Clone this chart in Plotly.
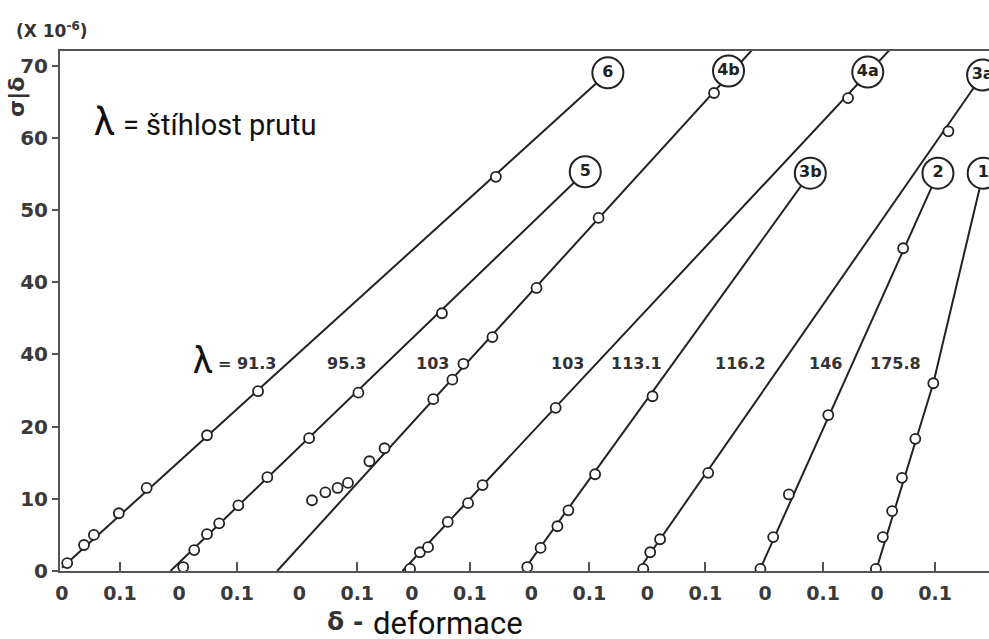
import plotly.graph_objects as go

# ---- data ----
curve_ids = ["6", "5", "4b", "4a", "3b", "3a", "2", "1"]
slenderness = ["91.3", "95.3", "103", "103", "113.1", "116.2", "146", "175.8"]
# each specimen is plotted on its own shifted deformation origin
origin_shift = [0.0, 0.202, 0.409, 0.603, 0.809, 1.009, 1.212, 1.405]

pts_delta = [
    [0.009, 0.038, 0.055, 0.098, 0.146, 0.250, 0.338, 0.748],
    [0.007, 0.026, 0.048, 0.069, 0.102, 0.152, 0.224, 0.309, 0.453],
    [0.022, 0.045, 0.066, 0.084, 0.121, 0.147, 0.231, 0.264, 0.283, 0.333, 0.409, 0.516, 0.715],
    [-0.003, 0.014, 0.028, 0.062, 0.097, 0.122, 0.248, 0.752],
    [-0.007, 0.016, 0.045, 0.064, 0.110, 0.209],
    [-0.007, 0.005, 0.022, 0.105, 0.519],
    [-0.008, 0.014, 0.041, 0.109, 0.238],
    [-0.002, 0.010, 0.026, 0.043, 0.066, 0.097],
]
pts_ratio = [
    [1.1, 3.6, 5.0, 8.0, 11.5, 18.8, 24.9, 54.6],
    [0.55, 2.9, 5.1, 6.6, 9.1, 13.0, 18.4, 24.7, 35.7],
    [9.8, 10.9, 11.5, 12.2, 15.2, 17.0, 23.8, 26.5, 28.7, 32.4, 39.2, 48.9, 66.2],
    [0.3, 2.6, 3.3, 6.8, 9.4, 11.9, 22.6, 65.5],
    [0.55, 3.2, 6.2, 8.4, 13.4, 24.2],
    [0.3, 2.6, 4.4, 13.6, 60.9],
    [0.3, 4.7, 10.6, 21.6, 44.7],
    [0.3, 4.7, 8.3, 12.9, 18.3, 26.0],
]
# fitted (Southwell) lines
line_delta = [
    [0.0, 0.941],
    [-0.015, 0.700],
    [-0.038, 0.781],
    [-0.016, 0.824],
    [-0.014, 0.481],
    [-0.016, 0.578],
    [-0.010, 0.298],
    [-0.002, 0.097, 0.183],
]
line_ratio = [
    [0.45, 69.0],
    [0.0, 55.3],
    [0.0, 72.2],
    [0.0, 72.2],
    [0.0, 55.1],
    [0.0, 68.7],
    [0.0, 55.1],
    [0.0, 26.0, 55.1],
]
# circled specimen tags
tag_delta = [0.941, 0.700, 0.740, 0.786, 0.481, 0.578, 0.298, 0.183]
tag_ratio = [69.0, 55.3, 69.25, 69.1, 55.1, 68.7, 55.1, 55.1]

y_ticks = [0, 10, 20, 30, 40, 50, 60, 70]
y_ticktext = ["0", "10", "20", "40", "40", "50", "60", "70"]

# slenderness label anchors (global x, ratio)
lam_label_x = [0.319, 0.491, 0.638, 0.871, 0.991, 1.169, 1.316, 1.436]
lam_label_y = 28.8

# ---- figure ----
INK = "#222222"
AX = "#555555"
OLD_FONT = "DejaVu Sans"

fig = go.Figure()

for i in range(len(curve_ids)):
    off = origin_shift[i]
    fig.add_trace(go.Scatter(
        x=[off + d for d in line_delta[i]], y=line_ratio[i],
        mode="lines", line=dict(color=INK, width=2), hoverinfo="skip"))
    fig.add_trace(go.Scatter(
        x=[off + d for d in pts_delta[i]], y=pts_ratio[i],
        mode="markers",
        marker=dict(symbol="circle", size=10, color="white",
                    line=dict(color=INK, width=1.8)),
        hoverinfo="skip"))

fig.add_trace(go.Scatter(
    x=[origin_shift[i] + tag_delta[i] for i in range(len(curve_ids))],
    y=tag_ratio, mode="markers+text", text=curve_ids,
    textposition="middle center",
    textfont=dict(family=OLD_FONT, size=16, color=INK, weight="bold"),
    marker=dict(symbol="circle", size=31, color="white",
                line=dict(color=INK, width=2)),
    hoverinfo="skip", cliponaxis=True))

# helper trace for the tick-mark axis
tick_pos = [o + 0.1 for o in origin_shift]
fig.add_trace(go.Scatter(x=[tick_pos[0]], y=[0], xaxis="x2", mode="markers",
                         marker=dict(opacity=0), hoverinfo="skip"))

label_vals, label_text = [], []
for o in origin_shift:
    label_vals += [o, o + 0.1]
    label_text += ["0", "0.1"]

xr = [-0.0034, 1.598]
xtickfont = dict(family=OLD_FONT, size=19, color="#3a3a3a", weight="bold")
ytickfont = dict(family=OLD_FONT, size=20, color="#3a3a3a", weight="bold")

fig.update_layout(
    width=989, height=639,
    margin=dict(l=60, r=0, t=51, b=68),
    plot_bgcolor="white", paper_bgcolor="white",
    showlegend=False,
    xaxis=dict(range=xr, tickmode="array", tickvals=label_vals, ticktext=label_text,
               ticks="", showline=True, linecolor=AX, linewidth=2, mirror=True,
               showgrid=False, zeroline=False, tickfont=xtickfont,
               ticklabelstandoff=4),
    xaxis2=dict(range=xr, overlaying="x", anchor="y", side="bottom",
                tickmode="array", tickvals=tick_pos, ticks="inside", ticklen=9,
                tickwidth=2, tickcolor=AX, showticklabels=False, showline=False,
                showgrid=False, zeroline=False),
    yaxis=dict(range=[0, 72.02], tickmode="array", tickvals=y_ticks,
               ticktext=y_ticktext, ticks="outside", ticklen=6, tickwidth=2,
               tickcolor=AX, showline=True, linecolor=AX, linewidth=2,
               showgrid=False, zeroline=False, tickfont=ytickfont,
               ticklabelstandoff=0),
)

ann = []
# slenderness values
ann.append(dict(x=0.243, y=lam_label_y + 0.3, xref="x", yref="y", text="λ",
                xanchor="center", yanchor="middle",
                showarrow=False, font=dict(family="Roboto", size=36, color="#111")))
for i, v in enumerate(slenderness):
    t = "= " + v if i == 0 else v
    ann.append(dict(x=lam_label_x[i], y=lam_label_y, xref="x", yref="y", text=t,
                    xanchor="center", yanchor="middle", showarrow=False,
                    font=dict(family=OLD_FONT, size=16, color="#333", weight="bold")))


def px2paper(px, py):
    # page pixels -> paper fraction (plot area spans x 60..989, y 51..571)
    return (px - 60) / 929.0, (571 - py) / 520.0


def text_at(px, py, text, font, xanchor="center", **kw):
    x, y = px2paper(px, py)
    ann.append(dict(x=x, y=y, xref="paper", yref="paper", text=text,
                    xanchor=xanchor, yanchor="middle", showarrow=False,
                    font=font, **kw))


text_at(51, 30, "(X 10<sup>-6</sup>)",
        dict(family=OLD_FONT, size=17, color="#333", weight="bold"))
text_at(17, 97, "σ|δ", dict(family=OLD_FONT, size=22, color="#333", weight="bold"),
        textangle=-90)
text_at(104, 122, "λ", dict(family="Roboto", size=38, color="#111"))
text_at(121, 125, "= štíhlost prutu", dict(family="Roboto", size=29, color="#111"),
        xanchor="left")
text_at(345, 621, "δ -", dict(family=OLD_FONT, size=25, color="#333", weight="bold"))
text_at(371, 623, "deformace", dict(family="Roboto", size=31, color="#111"),
        xanchor="left")

fig.update_layout(annotations=ann)

fig.write_html(
    "out.html",
    config={"displayModeBar": False},
    post_script="document.body.style.margin='0px';"
                "document.documentElement.style.overflow='hidden';",
)
